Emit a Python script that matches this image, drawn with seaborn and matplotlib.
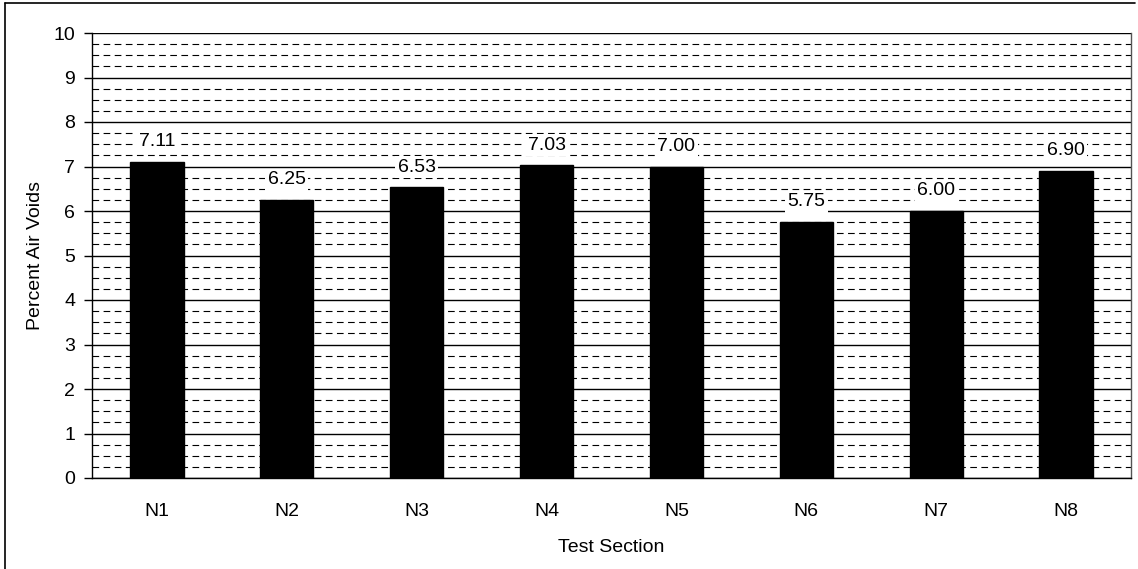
import matplotlib
matplotlib.use("Agg")
import matplotlib.pyplot as plt
import matplotlib.lines as mlines
from matplotlib.ticker import MultipleLocator, FixedLocator
import seaborn as sns
import pandas as pd

sections = ["N1", "N2", "N3", "N4", "N5", "N6", "N7", "N8"]
air_voids = [7.11, 6.25, 6.53, 7.03, 7.00, 5.75, 6.00, 6.90]

sns.set_theme(style="white")
plt.rcParams["font.family"] = ["Liberation Sans", "DejaVu Sans"]

FS = 14

df = pd.DataFrame({"Test Section": sections, "Percent Air Voids": air_voids})

fig = plt.figure(figsize=(11.38, 5.69), dpi=100)
ax = fig.add_axes([92 / 1138, 1 - 478 / 569, (1131 - 92) / 1138, (478 - 33) / 569])

sns.barplot(data=df, x="Test Section", y="Percent Air Voids", color="black",
            width=0.41, saturation=1, ax=ax, zorder=3, edgecolor="black")

ax.set_ylim(0, 10)
ax.set_xlim(-0.5, len(sections) - 0.5)

# gridlines: solid at whole numbers, dashed at quarters
ax.yaxis.set_major_locator(MultipleLocator(1))
ax.yaxis.set_minor_locator(MultipleLocator(0.25))
ax.grid(which="major", axis="y", color="black", linewidth=1.0, linestyle="-", zorder=0)
ax.grid(which="minor", axis="y", color="black", linewidth=0.8, linestyle=(0, (6, 4)), zorder=0)
ax.grid(which="both", axis="x", visible=False)
ax.set_axisbelow(True)

# x ticks drawn at category boundaries
ax.xaxis.set_minor_locator(FixedLocator([i - 0.5 for i in range(len(sections) + 1)]))
ax.tick_params(axis="x", which="major", length=0, pad=18, labelsize=FS, colors="black")
ax.tick_params(axis="x", which="minor", length=6, width=1, color="black", direction="out")
ax.tick_params(axis="y", which="major", length=6, width=1, color="black", direction="out",
               left=True, labelsize=FS, pad=6, labelcolor="black")
ax.tick_params(axis="y", which="minor", length=0)

for side in ["left", "bottom", "right", "top"]:
    ax.spines[side].set_color("black")
    ax.spines[side].set_linewidth(1.0)
ax.spines["right"].set_color("#555555")
ax.spines["top"].set_visible(False)

ax.set_xlabel("Test Section", fontsize=FS, labelpad=14, color="black")
ax.set_ylabel("Percent Air Voids", fontsize=FS, labelpad=7, color="black")

for i, v in enumerate(air_voids):
    ax.annotate(f"{v:.2f}", xy=(i, v), xytext=(0, 14.5), textcoords="offset points",
                ha="center", va="center", fontsize=FS, color="black", zorder=5,
                bbox=dict(boxstyle="square,pad=0.12", facecolor="white", edgecolor="none"))

# chart border along the left and top edges
fig.add_artist(mlines.Line2D([0.0045, 0.0045], [0, 0.995], transform=fig.transFigure,
                             color="black", linewidth=1.2))
fig.add_artist(mlines.Line2D([0.0045, 0.997], [0.995, 0.995], transform=fig.transFigure,
                             color="black", linewidth=1.2))

fig.savefig("out.png", dpi=100, facecolor="white")
